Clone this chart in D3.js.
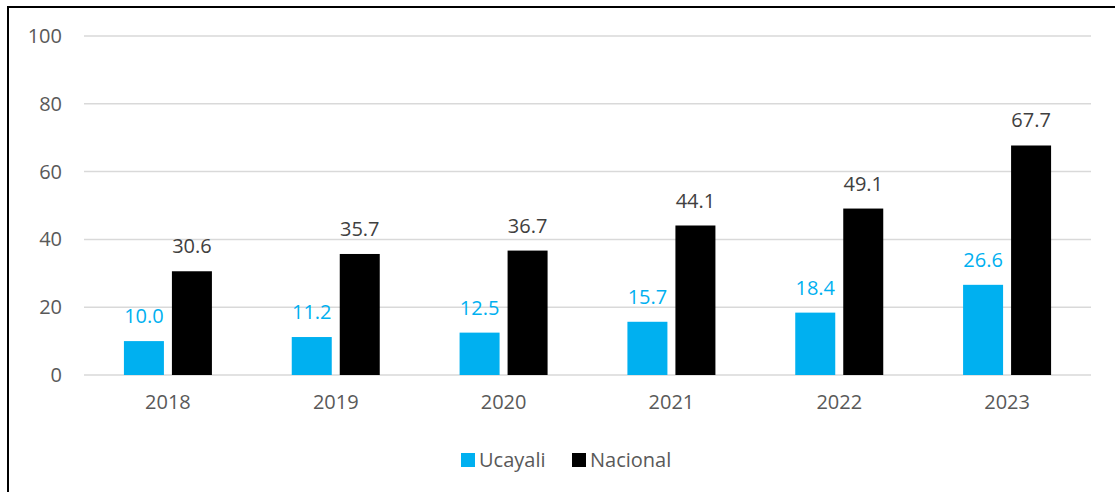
<!DOCTYPE html>
<html><head><meta charset="utf-8">
<script src="https://cdn.jsdelivr.net/npm/d3@7"></script>
<style>body{margin:0;background:#fff}svg{display:block}</style>
</head><body><svg id="c" width="1115" height="492"></svg>
<script>
const years = ["2018","2019","2020","2021","2022","2023"];
const ucayali = [10.0, 11.2, 12.5, 15.7, 18.4, 26.6];
const nacional = [30.6, 35.7, 36.7, 44.1, 49.1, 67.7];
const yTicks = [0, 20, 40, 60, 80, 100];
const seriesNames = ["Ucayali", "Nacional"];
const colors = ["#00b0f0", "#000000"];
const labelColors = ["#00b0f0", "#404040"];

const font = "'Open Sans', Lato, sans-serif";
const fs = 20;
const svg = d3.select("#c");
svg.append("rect").attr("x", 8).attr("y", 7).attr("width", 1200).attr("height", 600)
  .attr("fill", "#fff").attr("stroke", "#000").attr("stroke-width", 2);

const pLeft = 84, pRight = 1091, pTop = 36, pBottom = 375;
const x = d3.scaleBand().domain(years).range([pLeft, pRight]);
const y = d3.scaleLinear().domain([0, 100]).range([pBottom, pTop]);

const grid = svg.append("g");
grid.selectAll("line").data(yTicks).join("line")
  .attr("x1", pLeft).attr("x2", pRight)
  .attr("y1", d => y(d)).attr("y2", d => y(d))
  .attr("stroke", "#d9d9d9").attr("stroke-width", 1.5);

const yAxis = svg.append("g").attr("transform", `translate(${pLeft},0)`)
  .call(d3.axisLeft(y).tickValues(yTicks).tickSize(0).tickPadding(22));
yAxis.select(".domain").remove();
yAxis.selectAll("text").attr("font-family", font).attr("font-size", fs).attr("fill", "#595959");

const xAxis = svg.append("g").attr("transform", `translate(0,${pBottom})`)
  .call(d3.axisBottom(x).tickSize(0).tickPadding(20));
xAxis.select(".domain").remove();
xAxis.selectAll("text").attr("font-family", font).attr("font-size", fs).attr("fill", "#595959");

const barW = 40, gap = 8;
const sub = d3.scaleOrdinal().domain(seriesNames).range([-gap/2 - barW, gap/2]);
const data = [ucayali, nacional];
data.forEach((vals, si) => {
  const g = svg.append("g");
  g.selectAll("rect").data(vals).join("rect")
    .attr("x", (d, i) => x(years[i]) + x.bandwidth()/2 + sub(seriesNames[si]))
    .attr("y", d => y(d)).attr("width", barW).attr("height", d => y(0) - y(d))
    .attr("fill", colors[si]);
  g.selectAll("text").data(vals).join("text")
    .attr("x", (d, i) => x(years[i]) + x.bandwidth()/2 + sub(seriesNames[si]) + barW/2)
    .attr("y", d => y(d) - 18)
    .attr("text-anchor", "middle").attr("font-family", font).attr("font-size", fs)
    .attr("fill", labelColors[si]).text(d => d.toFixed(1));
});

const leg = svg.append("g");
const legX = [461, 572];
seriesNames.forEach((n, i) => {
  leg.append("rect").attr("x", legX[i]).attr("y", 453).attr("width", 14).attr("height", 14).attr("fill", colors[i]);
  leg.append("text").attr("x", legX[i] + 18).attr("y", 467).attr("font-family", font)
    .attr("font-size", fs).attr("fill", "#595959").text(n);
});
</script></body></html>
